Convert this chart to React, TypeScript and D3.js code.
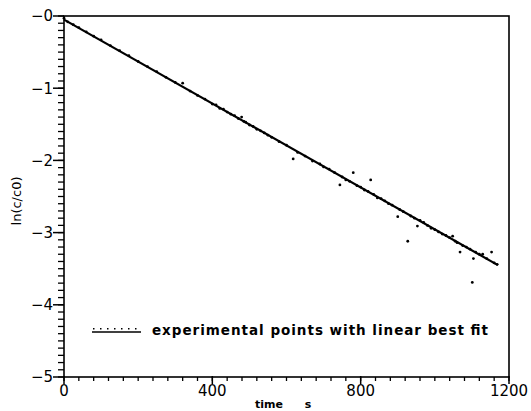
import React from "react";
import * as d3 from "d3";

// Experimental points: time (s) and ln(c/c0)
const times = [
  0, 10, 25, 40, 60, 80, 100, 125, 150, 175, 200, 225, 250, 275, 300, 320, 340, 360, 380, 400,
  410, 420, 430, 440, 450, 460, 470, 479, 485, 490, 500, 510, 520, 530, 540, 550, 560, 580, 600, 618,
  630, 650, 670, 690, 700, 715, 730, 744, 750, 760, 770, 780, 790, 800, 810, 820, 827, 835, 845, 855,
  865, 875, 885, 900, 905, 915, 927, 935, 945, 953, 960, 970, 980, 990, 1000, 1010, 1020, 1030, 1040, 1048,
  1055, 1060, 1068, 1075, 1085, 1095, 1101, 1104, 1110, 1120, 1129, 1140, 1153, 1160, 1168,
];
const lnRatio = [
  -0.03, -0.08, -0.12, -0.16, -0.22, -0.28, -0.33, -0.41, -0.48, -0.55, -0.63, -0.70, -0.77, -0.85, -0.92, -0.93, -1.04, -1.10, -1.15, -1.22,
  -1.23, -1.28, -1.29, -1.33, -1.36, -1.38, -1.42, -1.40, -1.46, -1.47, -1.51, -1.53, -1.57, -1.59, -1.62, -1.65, -1.68, -1.74, -1.79, -1.98,
  -1.89, -1.94, -2.01, -2.05, -2.09, -2.12, -2.17, -2.34, -2.23, -2.27, -2.29, -2.17, -2.35, -2.37, -2.41, -2.43, -2.27, -2.47, -2.52, -2.53,
  -2.56, -2.60, -2.62, -2.78, -2.68, -2.71, -3.12, -2.77, -2.80, -2.91, -2.83, -2.86, -2.90, -2.94, -2.96, -2.99, -3.02, -3.04, -3.07, -3.05,
  -3.12, -3.14, -3.27, -3.18, -3.20, -3.23, -3.69, -3.36, -3.27, -3.30, -3.30, -3.36, -3.27, -3.42, -3.44,
];

// Linear best fit, given by its end points
const fitTimes = [0, 1170];
const fitValues = [-0.05, -3.45];

const xMajorTicks = [0, 400, 800, 1200];
const xTickLabels = ["0", "400", "800", "1200"];
const yMajorTicks = [0, -1, -2, -3, -4, -5];
const yTickLabels = ["−0", "−1", "−2", "−3", "−4", "−5"];

const W = 531;
const H = 411;
const left = 64;
const right = 509;
const top = 16;
const bottom = 377;

export default function App() {
  const x = d3.scaleLinear().domain([0, 1200]).range([left, right]);
  const y = d3.scaleLinear().domain([0, -5]).range([top, bottom]);

  const xMinor = d3.range(0, 1200 + 1, 40);
  const yMinor = d3.range(0, 51).map((i) => -i / 10);

  const fitPath = d3
    .line<number>()
    .x((t) => x(t))
    .y((_, i) => y(fitValues[i]))(fitTimes) as string;

  const font = "'DejaVu Sans', sans-serif";

  return (
    <svg
      width={W}
      height={H}
      style={{ position: "absolute", left: 0, top: 0, background: "#fff" }}
      fontFamily={font}
    >
      <rect x={0} y={0} width={W} height={H} fill="#fff" />
      {/* frame */}
      <rect
        x={left}
        y={top}
        width={right - left}
        height={bottom - top}
        fill="none"
        stroke="#000"
        strokeWidth={1.6}
      />
      {/* y ticks */}
      {yMinor.map((v, i) => (
        <line key={"ym" + i} x1={left - 6} x2={left} y1={y(v)} y2={y(v)} stroke="#000" strokeWidth={1.3} />
      ))}
      {yMajorTicks.map((v, i) => (
        <g key={"yM" + i}>
          <line x1={left - 11} x2={left} y1={y(v)} y2={y(v)} stroke="#000" strokeWidth={1.5} />
          <text x={53} y={y(v)} dy="0.36em" textAnchor="end" fontSize={15}>
            {yTickLabels[i]}
          </text>
        </g>
      ))}
      {/* x ticks */}
      {xMinor.map((t, i) => (
        <line key={"xm" + i} x1={x(t)} x2={x(t)} y1={bottom} y2={bottom + 4} stroke="#000" strokeWidth={1.3} />
      ))}
      {xMajorTicks.map((t, i) => (
        <g key={"xM" + i}>
          <line x1={x(t)} x2={x(t)} y1={bottom - 1} y2={bottom + 7} stroke="#000" strokeWidth={1.5} />
          <text x={x(t)} y={396} textAnchor="middle" fontSize={15}>
            {xTickLabels[i]}
          </text>
        </g>
      ))}
      {/* axis titles */}
      <text x={269} y={408} textAnchor="middle" fontSize={11} fontWeight="bold">
        time
      </text>
      <text x={308} y={408} textAnchor="middle" fontSize={11} fontWeight="bold">
        s
      </text>
      <text
        transform={`translate(21,201) rotate(-90)`}
        textAnchor="middle"
        fontSize={13}
      >
        ln(c/c0)
      </text>
      {/* data points */}
      {times.map((t, i) => (
        <circle key={"p" + i} cx={x(t)} cy={y(lnRatio[i])} r={1.4} fill="#000" />
      ))}
      {/* fit line */}
      <path d={fitPath} fill="none" stroke="#000" strokeWidth={2.2} />
      {/* legend */}
      {d3.range(93, 141, 7).map((px, i) => (
        <rect key={"ld" + i} x={px} y={328} width={1.5} height={1.5} fill="#000" />
      ))}
      <line x1={92} x2={141} y1={332} y2={332} stroke="#000" strokeWidth={1.6} />
      <text x={152} y={335} fontSize={13.5} fontWeight="bold" textLength={336} lengthAdjust="spacing">
        experimental points with linear best fit
      </text>
    </svg>
  );
}
